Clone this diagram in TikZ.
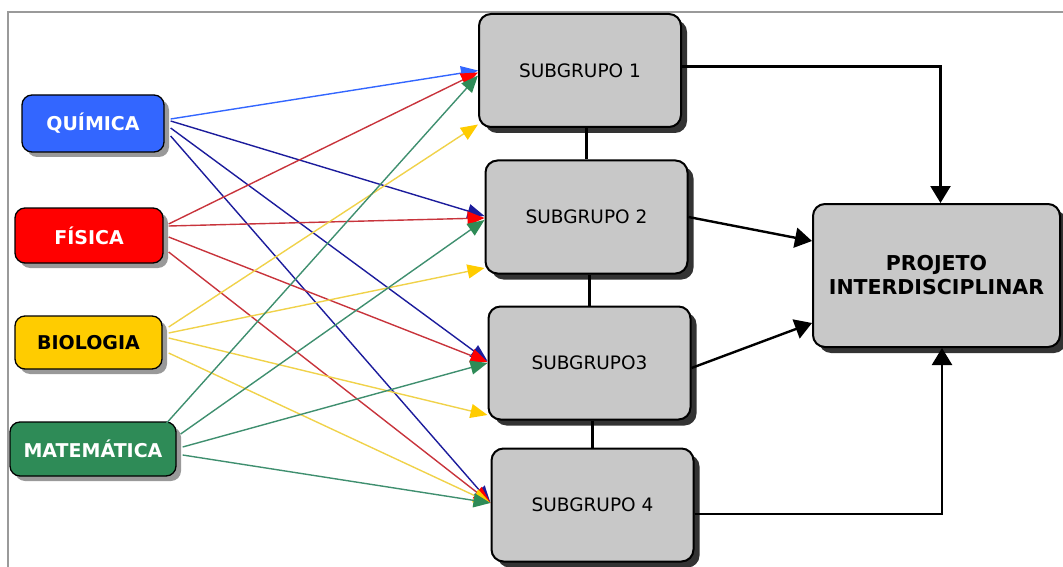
\documentclass[tikz,border=0pt]{standalone}
\usepackage{fontspec}
\setmainfont{DejaVu Sans}
\usetikzlibrary{arrows.meta,shadows}

\definecolor{quimica}{HTML}{3366FF}
\definecolor{quimicadark}{HTML}{1C1C9C}
\definecolor{fisica}{HTML}{FF0000}
\definecolor{fisicaline}{HTML}{C8343C}
\definecolor{biologia}{HTML}{FFCC00}
\definecolor{biologialine}{HTML}{F0D24A}
\definecolor{matematica}{HTML}{2E8B57}
\definecolor{matematicaline}{HTML}{3F8F6F}
\definecolor{boxgray}{HTML}{C8C8C8}
\definecolor{framegray}{HTML}{9A9A9A}

\tikzset{
  subj/.style={draw=black, line width=1.3pt, rounded corners=10pt, inner sep=0pt,
    font=\fontsize{19}{22}\selectfont\bfseries,
    drop shadow={shadow xshift=5pt, shadow yshift=-5pt, fill=black!40, opacity=1}},
  sub/.style={draw=black, line width=2pt, fill=boxgray, rounded corners=12pt, inner sep=0pt,
    minimum width=202pt, minimum height=113pt, font=\fontsize{18.5}{22}\selectfont,
    drop shadow={shadow xshift=6pt, shadow yshift=-6pt, fill=black!80, opacity=1}},
  qbright/.style={draw=quimica, line width=1.4pt, -{Triangle[length=17pt,width=14pt,color=quimica]}},
  qdark/.style={draw=quimicadark, line width=1.4pt, -{Triangle[length=17pt,width=14pt,color=quimicadark]}},
  fline/.style={draw=fisicaline, line width=1.4pt, -{Triangle[length=17pt,width=14pt,color=fisica]}},
  bline/.style={draw=biologialine, line width=1.4pt, -{Triangle[length=17pt,width=14pt,color=biologia]}},
  mline/.style={draw=matematicaline, line width=1.4pt, -{Triangle[length=17pt,width=14pt,color=matematica]}},
  link/.style={draw=black, line width=2.4pt, -{Triangle[length=17pt,width=20pt]}},
  bar/.style={draw=black, line width=2.4pt}
}

\begin{document}
\begin{tikzpicture}[x=1pt, y=-1pt]
	\useasboundingbox (0,0) rectangle (1063,567);
	% frame
	\draw[framegray, line width=1.5pt] (8,567) -- (8,12) -- (1063,12);

	% subjects
	\node[subj, fill=quimica, text=white, minimum width=142pt, minimum height=57pt] (qui) at (93,123.5) {QUÍMICA};
	\node[subj, fill=fisica, text=white, minimum width=148pt, minimum height=55pt] (fis) at (89,235.5) {FÍSICA};
	\node[subj, fill=biologia, text=black, minimum width=147pt, minimum height=53pt] (bio) at (88.5,342.5) {BIOLOGIA};
	\node[subj, fill=matematica, text=white, minimum width=166pt, minimum height=54pt] (mat) at (93,449) {MATEMÁTICA};

	% subgroups
	\node[sub] (sg1) at (580,70.5) {SUBGRUPO 1};
	\node[sub] (sg2) at (586.5,217) {SUBGRUPO 2};
	\node[sub] (sg3) at (589.5,363) {SUBGRUPO3};
	\node[sub] (sg4) at (592.5,505) {SUBGRUPO 4};

	% project
	\node[sub, minimum width=247pt, minimum height=143pt, align=center,
	      font=\fontsize{20.5}{24}\selectfont\bfseries] (proj) at (936.5,275.5) {PROJETO\\INTERDISCIPLINAR};

	\foreach \a/\b in {sg1/sg2, sg2/sg3, sg3/sg4}
	{	\draw[bar] (\b.north) -- (\b.north |- \a.south);
	}

	\draw[link] ([yshift=4pt]sg1.east) -| ([xshift=4pt]proj.north);
	\draw[link] (sg2.east) -- ([yshift=34.5pt]proj.west);
	\draw[link] ([yshift=-5pt]sg3.east) -- ([yshift=-47.5pt]proj.west);
	\draw[link] ([yshift=-9pt]sg4.east) -| ([xshift=5.5pt]proj.south);

	\def\fan {qui/6/4.5/sg1/0/qbright, qui/6/2.5/sg2/1/qdark, qui/6/-4.5/sg3/2/qdark, qui/6/-12.5/sg4/2/qdark,
	fis/5/11.5/sg1/-2/fline, fis/5/9.5/sg2/-1/fline, fis/5/-1.5/sg3/1/fline, fis/5/-16.5/sg4/2/fline,
	bio/6/15.5/sg1/-54/bline, bio/6/9.5/sg2/-51/bline, bio/6/4.5/sg3/-52/bline, bio/6/-10.5/sg4/2/bline,
	mat/-10/26/sg1/-5/mline, mat/4/15/sg2/-3/mline, mat/6/2/sg3/0/mline, mat/6/-6/sg4/2/mline}  % subject -> subgroup
	\foreach \s/\xs/\ys/\t/\yt/\c in \fan
	{	\draw[\c] ([xshift=\xs pt, yshift=\ys pt]\s.east) -- ([yshift=\yt pt]\t.west);
	}
\end{tikzpicture}
\end{document}
